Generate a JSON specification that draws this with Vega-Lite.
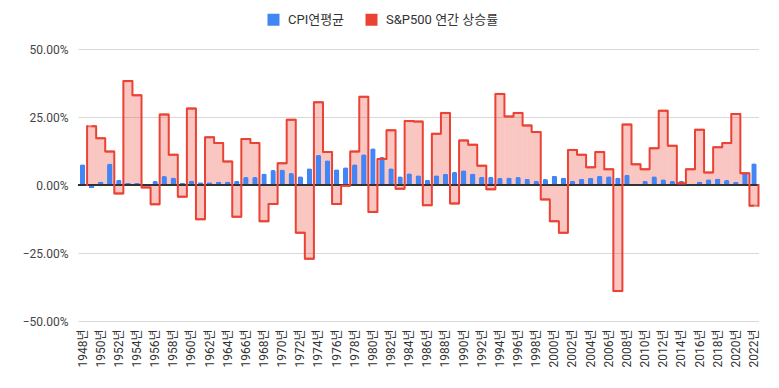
{
  "$schema": "https://vega.github.io/schema/vega-lite/v6.json",
  "width": 680.5,
  "height": 272,
  "autosize": {"type": "none"},
  "padding": {"left": 78, "top": 49, "right": 20.5, "bottom": 67},
  "background": "#ffffff",
  "config": {
    "view": {"stroke": null},
    "font": "Roboto, 'Noto Sans CJK KR'",
    "axis": {"labelFont": "Roboto, 'Noto Sans CJK KR'"},
    "legend": {"labelFont": "Roboto, 'Noto Sans CJK KR'"}
  },
  "data": {
    "values": [
      {"year": 1948, "cpi": 0.076, "sp": null},
      {"year": 1949, "cpi": -0.012, "sp": 0.216},
      {"year": 1950, "cpi": 0.013, "sp": 0.172},
      {"year": 1951, "cpi": 0.079, "sp": 0.123},
      {"year": 1952, "cpi": 0.019, "sp": -0.031},
      {"year": 1953, "cpi": 0.008, "sp": 0.382},
      {"year": 1954, "cpi": 0.007, "sp": 0.330},
      {"year": 1955, "cpi": -0.004, "sp": -0.009},
      {"year": 1956, "cpi": 0.015, "sp": -0.071},
      {"year": 1957, "cpi": 0.033, "sp": 0.259},
      {"year": 1958, "cpi": 0.028, "sp": 0.111},
      {"year": 1959, "cpi": 0.007, "sp": -0.043},
      {"year": 1960, "cpi": 0.017, "sp": 0.281},
      {"year": 1961, "cpi": 0.010, "sp": -0.126},
      {"year": 1962, "cpi": 0.010, "sp": 0.176},
      {"year": 1963, "cpi": 0.013, "sp": 0.154},
      {"year": 1964, "cpi": 0.013, "sp": 0.086},
      {"year": 1965, "cpi": 0.016, "sp": -0.117},
      {"year": 1966, "cpi": 0.029, "sp": 0.169},
      {"year": 1967, "cpi": 0.029, "sp": 0.154},
      {"year": 1968, "cpi": 0.042, "sp": -0.133},
      {"year": 1969, "cpi": 0.055, "sp": -0.070},
      {"year": 1970, "cpi": 0.057, "sp": 0.080},
      {"year": 1971, "cpi": 0.044, "sp": 0.240},
      {"year": 1972, "cpi": 0.032, "sp": -0.176},
      {"year": 1973, "cpi": 0.062, "sp": -0.271},
      {"year": 1974, "cpi": 0.110, "sp": 0.304},
      {"year": 1975, "cpi": 0.091, "sp": 0.121},
      {"year": 1976, "cpi": 0.058, "sp": -0.070},
      {"year": 1977, "cpi": 0.065, "sp": -0.003},
      {"year": 1978, "cpi": 0.076, "sp": 0.123},
      {"year": 1979, "cpi": 0.113, "sp": 0.324},
      {"year": 1980, "cpi": 0.135, "sp": -0.099},
      {"year": 1981, "cpi": 0.103, "sp": 0.096},
      {"year": 1982, "cpi": 0.062, "sp": 0.201},
      {"year": 1983, "cpi": 0.032, "sp": -0.014},
      {"year": 1984, "cpi": 0.043, "sp": 0.235},
      {"year": 1985, "cpi": 0.036, "sp": 0.233},
      {"year": 1986, "cpi": 0.019, "sp": -0.074},
      {"year": 1987, "cpi": 0.036, "sp": 0.188},
      {"year": 1988, "cpi": 0.041, "sp": 0.265},
      {"year": 1989, "cpi": 0.048, "sp": -0.068},
      {"year": 1990, "cpi": 0.054, "sp": 0.164},
      {"year": 1991, "cpi": 0.042, "sp": 0.148},
      {"year": 1992, "cpi": 0.030, "sp": 0.071},
      {"year": 1993, "cpi": 0.030, "sp": -0.016},
      {"year": 1994, "cpi": 0.026, "sp": 0.335},
      {"year": 1995, "cpi": 0.028, "sp": 0.252},
      {"year": 1996, "cpi": 0.029, "sp": 0.265},
      {"year": 1997, "cpi": 0.023, "sp": 0.219},
      {"year": 1998, "cpi": 0.016, "sp": 0.195},
      {"year": 1999, "cpi": 0.022, "sp": -0.053},
      {"year": 2000, "cpi": 0.034, "sp": -0.133},
      {"year": 2001, "cpi": 0.028, "sp": -0.176},
      {"year": 2002, "cpi": 0.016, "sp": 0.129},
      {"year": 2003, "cpi": 0.023, "sp": 0.111},
      {"year": 2004, "cpi": 0.027, "sp": 0.065},
      {"year": 2005, "cpi": 0.034, "sp": 0.121},
      {"year": 2006, "cpi": 0.032, "sp": 0.058},
      {"year": 2007, "cpi": 0.028, "sp": -0.390},
      {"year": 2008, "cpi": 0.038, "sp": 0.222},
      {"year": 2009, "cpi": -0.004, "sp": 0.076},
      {"year": 2010, "cpi": 0.016, "sp": 0.058},
      {"year": 2011, "cpi": 0.032, "sp": 0.135},
      {"year": 2012, "cpi": 0.021, "sp": 0.273},
      {"year": 2013, "cpi": 0.015, "sp": 0.144},
      {"year": 2014, "cpi": 0.016, "sp": 0.006},
      {"year": 2015, "cpi": 0.001, "sp": 0.058},
      {"year": 2016, "cpi": 0.013, "sp": 0.203},
      {"year": 2017, "cpi": 0.021, "sp": 0.046},
      {"year": 2018, "cpi": 0.024, "sp": 0.139},
      {"year": 2019, "cpi": 0.018, "sp": 0.154},
      {"year": 2020, "cpi": 0.012, "sp": 0.261},
      {"year": 2021, "cpi": 0.047, "sp": 0.043},
      {"year": 2022, "cpi": 0.080, "sp": -0.076}
    ]
  },
  "layer": [
    {
      "mark": {"type": "bar", "opacity": 0.3},
      "encoding": {
        "x": {
          "field": "year", "type": "ordinal",
          "scale": {"paddingInner": 0, "paddingOuter": 0},
          "axis": {
            "title": null, "labelAngle": -90, "ticks": false, "domain": false, "grid": false,
            "labelPadding": 8, "labelFontSize": 12, "labelColor": "#333333",
            "labelOverlap": false, "labelBound": false,
            "labelExpr": "datum.value % 2 == 0 ? datum.value + '년' : ''"
          }
        },
        "y": {
          "field": "sp", "type": "quantitative",
          "scale": {"domain": [-0.5, 0.5], "nice": false},
          "axis": {
            "title": null, "values": [-0.5, -0.25, 0, 0.25, 0.5], "format": ".2%",
            "ticks": false, "domain": false, "grid": true, "gridColor": "#d9d9d9",
            "labelPadding": 10, "labelFontSize": 12, "labelColor": "#444444"
          }
        },
        "color": {
          "datum": "S&P500 연간 상승률",
          "scale": {"domain": ["CPI연평균", "S&P500 연간 상승률"], "range": ["#4285f4", "#ea4335"]},
          "legend": {
            "title": null, "orient": "none", "direction": "horizontal",
            "legendX": 189, "legendY": -36,
            "symbolType": "square", "symbolSize": 144, "symbolOpacity": 1, "symbolStrokeWidth": 0,
            "labelFontSize": 13, "labelColor": "#333333", "labelOffset": 8, "columnPadding": 20
          }
        }
      }
    },
    {
      "mark": {"type": "bar", "width": {"band": 0.6}, "cornerRadiusEnd": 2},
      "encoding": {
        "x": {"field": "year", "type": "ordinal"},
        "y": {"field": "cpi", "type": "quantitative"},
        "color": {"datum": "CPI연평균"}
      }
    },
    {
      "mark": {"type": "rule", "color": "#333333", "strokeWidth": 1},
      "encoding": {"y": {"datum": 0}}
    },
    {
      "mark": {"type": "line", "interpolate": "step", "color": "#ea4335", "strokeWidth": 2, "strokeJoin": "round"},
      "encoding": {
        "x": {"field": "year", "type": "ordinal"},
        "y": {"field": "sp", "type": "quantitative"}
      }
    },
    {
      "mark": {"type": "tick", "color": "#ea4335", "size": 9.07, "thickness": 2, "orient": "horizontal"},
      "encoding": {
        "x": {"field": "year", "type": "ordinal"},
        "y": {"field": "sp", "type": "quantitative"}
      }
    },
    {
      "transform": [{"filter": "datum.year == 1949"}],
      "mark": {"type": "rule", "color": "#ea4335", "strokeWidth": 2, "strokeCap": "square"},
      "encoding": {
        "x": {"field": "year", "type": "ordinal", "bandPosition": 0},
        "y": {"field": "sp", "type": "quantitative"},
        "y2": {"datum": 0}
      }
    },
    {
      "transform": [{"filter": "datum.year == 2022"}],
      "mark": {"type": "rule", "color": "#ea4335", "strokeWidth": 2, "strokeCap": "square"},
      "encoding": {
        "x": {"field": "year", "type": "ordinal", "bandPosition": 1},
        "y": {"field": "sp", "type": "quantitative"},
        "y2": {"datum": 0}
      }
    }
  ]
}
